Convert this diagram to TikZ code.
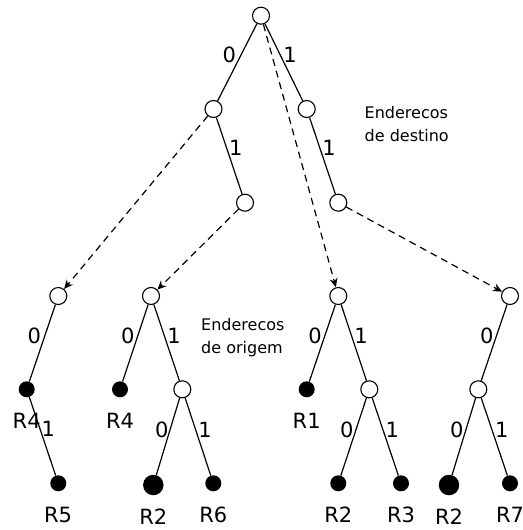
\documentclass[tikz,border=0pt]{standalone}
\usepackage{fontspec}
\setmainfont{DejaVu Sans}
\usetikzlibrary{arrows.meta}
\begin{document}
\begin{tikzpicture}[x=1pt,y=-1pt,
  inner/.style={circle,draw,fill=white,line width=1.1pt,minimum size=17pt,inner sep=0pt},
  leaf/.style={circle,fill=black,minimum size=16pt,inner sep=0pt},
  bigleaf/.style={circle,fill=black,minimum size=20.5pt,inner sep=0pt},
  edge/.style={line width=1.2pt},
  link/.style={line width=1.2pt,dash pattern=on 7pt off 5pt,-{Stealth[length=9pt,width=8pt]}},
  bit/.style={font=\fontsize{21}{21}\selectfont,inner sep=0pt},
  router/.style={font=\fontsize{21}{21}\selectfont,inner sep=0pt},
  note/.style={font=\fontsize{16}{23.5}\selectfont,align=left,inner sep=0pt,anchor=north west}]
\useasboundingbox (0,0) rectangle (522,530);

% destination trie
\node[inner] (root) at (261,15.7) {};
\node[inner] (d0) at (213.5,109) {};
\node[inner] (d1) at (306.7,109) {};
\node[inner] (d01) at (245,202.7) {};
\node[inner] (d11) at (338.3,202.7) {};
\draw[edge] (root) -- (d0);
\draw[edge] (root) -- (d1);
\draw[edge] (d0) -- (d01);
\draw[edge] (d1) -- (d11);
\node[bit] (b0) at (229.3,55) {0};
\node[bit] (b1) at (290,55) {1};
\node[bit] (b01) at (235.7,148) {1};
\node[bit] (b11) at (329,148) {1};
\node[note] (dest) at (364.5,105.8) {Enderecos\\de destino};

% source tries
\node[inner] (sa) at (58.3,296) {};
\node[inner] (sb) at (151,296) {};
\node[inner] (sc) at (338.3,296) {};
\node[inner] (sd) at (510,296) {};

% pointers from destination prefixes to source tries
\draw[link] (d0) -- (sa);
\draw[link] (d01) -- (sb);
\draw[link] (root) -- (sc);
\draw[link] (d11) -- (sd);

% trie A
\node[leaf] (a0) at (26.7,389.3) {};
\node[leaf] (a01) at (58.3,483.3) {};
\draw[edge] (sa) -- (a0);
\draw[edge] (a0) -- (a01);
\node[bit] (la0) at (34.3,336) {0};
\node[bit] (la01) at (48.3,429) {1};
\node[router] (ra0) at (26.7,420.7) {R4};
\node[router] (ra01) at (58,515) {R5};

% trie B
\node[leaf] (b0n) at (120,389.3) {};
\node[inner] (b1n) at (182.3,389.3) {};
\node[bigleaf] (b10n) at (153.3,485) {};
\node[leaf] (b11n) at (213.3,483.3) {};
\draw[edge] (sb) -- (b0n);
\draw[edge] (sb) -- (b1n);
\draw[edge] (b1n) -- (b10n);
\draw[edge] (b1n) -- (b11n);
\node[bit] (lb0) at (127.7,336) {0};
\node[bit] (lb1) at (174,336) {1};
\node[bit] (lb10) at (161.7,430) {0};
\node[bit] (lb11) at (205,430) {1};
\node[router] (rb0) at (120,420.7) {R4};
\node[router] (rb10) at (153.3,516.7) {R2};
\node[router] (rb11) at (213.3,515) {R6};
\node[note] (orig) at (201,317.9) {Enderecos\\de origem};

% trie C
\node[leaf] (c0n) at (306.7,389.3) {};
\node[inner] (c1n) at (369.3,389.3) {};
\node[leaf] (c10n) at (338.3,483.3) {};
\node[leaf] (c11n) at (401,483.3) {};
\draw[edge] (sc) -- (c0n);
\draw[edge] (sc) -- (c1n);
\draw[edge] (c1n) -- (c10n);
\draw[edge] (c1n) -- (c11n);
\node[bit] (lc0) at (315,336) {0};
\node[bit] (lc1) at (361,336) {1};
\node[bit] (lc10) at (346.7,430) {0};
\node[bit] (lc11) at (392.3,430) {1};
\node[router] (rc0) at (306.7,420.7) {R1};
\node[router] (rc10) at (338.3,515) {R2};
\node[router] (rc11) at (401,515) {R3};

% trie D
\node[inner] (d0n) at (478.3,389.3) {};
\node[bigleaf] (d00n) at (449,485) {};
\node[leaf] (d01n) at (510,483.3) {};
\draw[edge] (sd) -- (d0n);
\draw[edge] (d0n) -- (d00n);
\draw[edge] (d0n) -- (d01n);
\node[bit] (ld0) at (486.7,336) {0};
\node[bit] (ld00) at (456.7,430) {0};
\node[bit] (ld01) at (501.7,430) {1};
\node[router] (rd00) at (449,516.7) {R2};
\node[router] (rd01) at (510,515) {R7};
\end{tikzpicture}
\end{document}
